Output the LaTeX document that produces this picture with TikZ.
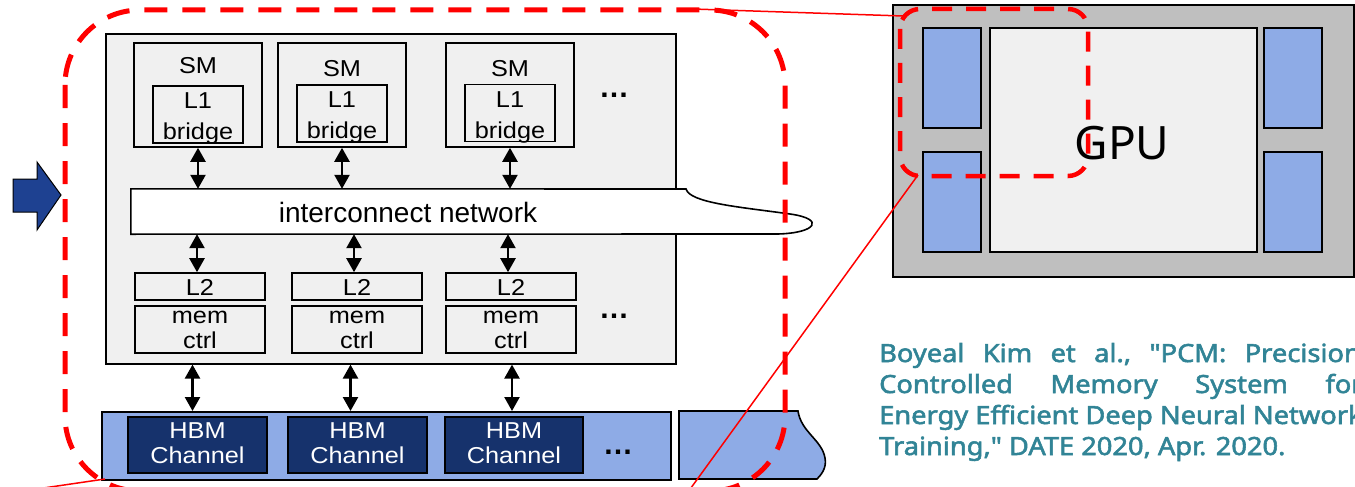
\documentclass[tikz,border=0pt]{standalone}
\usepackage{fontspec}
\setmainfont{Liberation Sans}
\newfontfamily\boxfont[FakeStretch=1.1]{Liberation Sans}
\newfontfamily\gpufont{Noto Sans}
\newfontfamily\citefont[FakeBold=2.2,FakeStretch=1.09]{Noto Sans}
\usetikzlibrary{arrows.meta,calc}

\definecolor{chipgray}{RGB}{240,240,240}
\definecolor{pkggray}{RGB}{191,191,191}
\definecolor{hbmblue}{RGB}{142,171,230}
\definecolor{chnavy}{RGB}{22,50,108}
\definecolor{arrowblue}{RGB}{30,65,145}
\definecolor{citeteal}{RGB}{49,132,150}
\definecolor{zoomred}{RGB}{255,0,0}

\newlength\citew

\begin{document}
\begin{tikzpicture}[x=1pt,y=-1pt,
  outl/.style={draw=black, line width=1.6pt},
  cell/.style={outl, inner sep=0pt},
  lbl/.style={font=\boxfont\fontsize{23}{26}\selectfont, inner sep=0pt, anchor=base},
  wlbl/.style={lbl, text=white},
  dots/.style={font=\bfseries\fontsize{30}{30}\selectfont, inner sep=0pt, anchor=base},
  link/.style={line width=2.4pt,
    {Triangle[width=15pt,length=14pt]}-{Triangle[width=15pt,length=14pt]}},
  zoomdash/.style={draw=zoomred, line width=5pt, dash pattern=on 23pt off 15pt},
  zoomline/.style={draw=zoomred, line width=1.5pt}]

\useasboundingbox (0,0) rectangle (1355,487);
\clip (0,0) rectangle (1355,487);

% pointer arrow on the left
\draw[black, line width=1pt, fill=arrowblue]
  (13,179) -- (37,179) -- (37,162) -- (61,195) -- (37,230) -- (37,212) -- (13,212) -- cycle;

% chip body
\node[outl, fill=chipgray, anchor=north west, minimum width=570, minimum height=330, inner sep=0pt]
  (chip) at (105,33) {};

% streaming multiprocessors with L1 bridges
\foreach \i/\x/\sb/\ly/\lb/\bb in {1/198/74/114.5/108/139, 2/342/77/113.5/107/138, 3/510/77/113/107/138}{
  \node[cell, minimum width=128, minimum height=104] (sm\i) at (\x,95) {};
  \node[cell, minimum width=90, minimum height=57] (l1box\i) at (\x,\ly) {};
  \node[lbl] (smt\i) at (\x,\sb) {SM};
  \node[lbl] (l1t\i) at (\x,\lb) {L1};
  \node[lbl] (brt\i) at (\x,\bb) {bridge};
}
\node[dots] (dt1) at (614,97) {…};

% interconnect network
\node[minimum width=649, minimum height=45, inner sep=0pt] (icbox) at (455.5,211.5) {};
\draw[line width=1.6pt, fill=white]
  (icbox.north west) -- (686,189)
  .. controls (690,203) and (740,207) .. (790,214)
  .. controls (826,219) and (816,233) .. (778,234)
  -- (icbox.south west) -- cycle;
\node[font=\fontsize{28}{30}\selectfont, inner sep=0pt, anchor=base] (ict) at (408,222) {interconnect network};

% L2 slices and memory controllers
\foreach \i/\x in {1/200, 2/357, 3/511}{
  \node[cell, minimum width=130, minimum height=27] (l2\i) at (\x,286.5) {};
  \node[cell, minimum width=130, minimum height=47] (mc\i) at (\x,329.5) {};
  \node[lbl] (l2t\i) at (\x,295) {L2};
  \node[lbl] (mct\i) at (\x,323) {mem};
  \node[lbl] (cct\i) at (\x,348) {ctrl};
}
\node[dots] (dt2) at (614,318) {…};

% HBM stack
\node[outl, fill=hbmblue, anchor=north west, minimum width=569, minimum height=68, inner sep=0pt]
  (hbm) at (101,411) {};
\foreach \i/\x/\w in {1/197.5/139, 2/357.5/139, 3/514/138}{
  \node[cell, fill=chnavy, minimum width=\w, minimum height=56] (ch\i) at (\x,445) {};
  \node[wlbl] (cht\i) at (\x,438) {HBM};
  \node[wlbl] (cnt\i) at (\x,463) {Channel};
}
\node[dots] (dt3) at (618,454) {…};

% torn-off neighbouring HBM stack
\draw[line width=1.6pt, fill=hbmblue]
  (679,411) -- (798,411)
  .. controls (801,432) and (822,440) .. (825,458)
  .. controls (827,468) and (821,475) .. (817,479)
  -- (679,479) -- cycle;

% connections
\foreach \i in {1,2,3}{
  \draw[link] (sm\i.south) -- (sm\i.south |- icbox.north);
  \draw[link] ([xshift=-3pt]l2\i.north |- icbox.south) -- ([xshift=-3pt]l2\i.north);
}
\foreach \i/\d in {1/-5,2/-7,3/-2}{
  \draw[link] ([xshift=\d pt]ch\i.north |- chip.south) -- ([xshift=\d pt]ch\i.north |- hbm.north);
}

% GPU package
\node[outl, fill=pkggray, anchor=north west, minimum width=461, minimum height=272, inner sep=0pt]
  (pkg) at (892,4) {};
\node[cell, fill=chipgray, minimum width=267, minimum height=224] (die) at (1123.5,140) {};
\foreach \n/\x/\y in {lt/952/78, lb/952/202, rt/1293/78, rb/1293/202}{
  \node[cell, fill=hbmblue, minimum width=58, minimum height=100] (st\n) at (\x,\y) {};
}
\node[font=\gpufont\fontsize{46}{50}\selectfont, inner sep=0pt, anchor=base] (gpu) at (1122,159) {GPU};

% reference, justified lines (the node's base is its last line)
\node[font=\citefont\fontsize{25}{31}\selectfont, text=citeteal, inner sep=0pt,
      anchor=base west, align=left] (cite) at (879,455) {%
  \settowidth\citew{Energy Efficient Deep Neural Network}\global\citew=\citew
  \makebox[\dimexpr\citew+7pt\relax][l]{Boyeal\hfill Kim\hfill et\hfill al.,\hfill "PCM:\hfill Precision-}\\
  \makebox[\citew][l]{Controlled\hfill Memory\hfill System\hfill for}\\
  \makebox[\citew][l]{Energy\hfill Efficient\hfill Deep\hfill Neural\hfill Network}\\
  Training," DATE 2020, Apr. 2020.};

% zoom outlines and guide lines
\draw[zoomline] (693,9) -- (903,16);
\draw[zoomline] (918,175) -- (688,492);
\draw[zoomline] (105,479) -- (30,490);
\draw[zoomdash, rounded corners=75pt] (65,10) rectangle (785,491);
\draw[draw=zoomred, line width=4.5pt, dash pattern=on 20pt off 14pt, rounded corners=20pt]
  (900,9) rectangle (1088,176);
\end{tikzpicture}
\end{document}
